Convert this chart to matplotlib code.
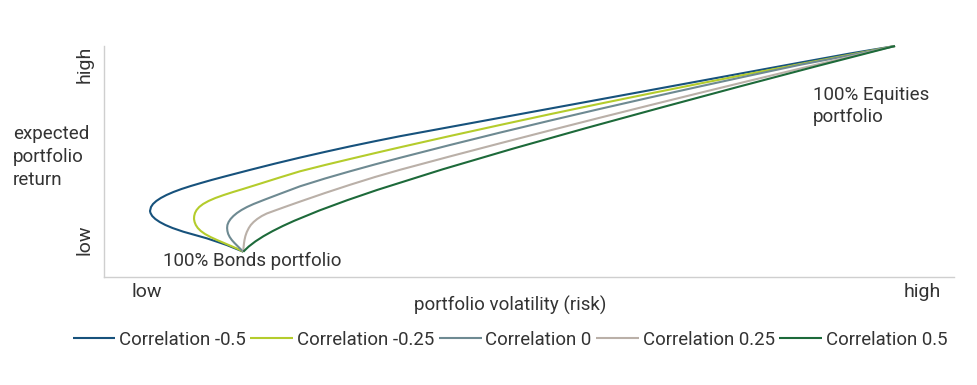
import matplotlib
matplotlib.use("Agg")
import matplotlib.pyplot as plt

plt.rcParams['font.family'] = ['Roboto', 'DejaVu Sans']

# ---- data (relative units: volatility 0-100, expected return 0-100) ----
correlations = ["Correlation -0.5", "Correlation -0.25", "Correlation 0",
                "Correlation 0.25", "Correlation 0.5"]
colors = ["#17527c", "#b4cc2c", "#6e8a92", "#bab0a8", "#1d6a3a"]

vol_m050 = [16.437, 15.356, 14.474, 13.439, 12.134, 10.758, 9.383, 8.113, 7.278, 6.608,
            6.091, 5.726, 5.526, 5.467, 5.585, 5.820, 6.208, 6.737, 7.407, 8.219, 9.171,
            10.265, 11.464, 12.698, 14.286, 17.225, 20.165, 23.104, 26.044, 28.983,
            31.922, 34.862, 40.741, 46.620, 52.499, 58.377, 64.256, 70.135, 76.014,
            81.893, 87.772, 93.063]
ret_m050 = [10.952, 12.554, 13.853, 15.152, 16.753, 18.182, 19.610, 21.212, 22.511, 23.810,
            25.108, 26.407, 27.706, 28.571, 30.303, 31.602, 32.900, 34.199, 35.498, 36.797,
            38.095, 39.394, 40.693, 41.991, 43.550, 46.364, 49.091, 51.688, 54.156, 56.537,
            58.788, 60.952, 64.935, 68.918, 72.900, 76.883, 80.866, 84.848, 88.831,
            92.814, 96.753, 100.0]

vol_m025 = [16.437, 15.814, 14.991, 14.168, 13.345, 12.581, 11.934, 11.440, 11.087, 10.852,
            10.711, 10.641, 10.664, 10.758, 10.946, 11.252, 11.711, 12.346, 13.157, 14.145,
            15.238, 16.402, 18.401, 20.753, 23.104, 26.044, 28.983, 31.922, 34.862, 40.741,
            46.620, 52.499, 58.377, 64.256, 70.135, 76.014, 81.893, 87.772, 93.063]
ret_m025 = [10.952, 12.121, 13.420, 14.719, 16.017, 17.316, 18.615, 19.913, 21.212, 22.511,
            23.810, 25.108, 26.407, 27.706, 29.004, 30.303, 31.602, 32.900, 34.199, 35.498,
            36.797, 38.095, 40.390, 43.117, 45.758, 48.485, 51.082, 53.636, 56.147, 61.039,
            65.801, 70.476, 75.022, 79.437, 83.766, 88.009, 92.164, 96.234, 100.0]

vol_000 = [16.437, 16.108, 15.755, 15.403, 15.085, 14.838, 14.662, 14.568, 14.533, 14.568,
           14.709, 14.944, 15.273, 15.697, 16.226, 16.873, 17.648, 18.989, 20.753, 23.104,
           26.044, 28.983, 31.922, 34.862, 40.741, 46.620, 52.499, 58.377, 64.256, 70.135,
           76.014, 81.893, 87.772, 93.063]
ret_000 = [10.952, 12.121, 13.420, 14.719, 16.017, 17.316, 18.615, 19.913, 21.212, 22.511,
           23.810, 25.108, 26.407, 27.706, 29.004, 30.303, 31.602, 33.550, 36.017, 39.264,
           42.641, 45.758, 48.745, 51.602, 57.143, 62.511, 67.706, 72.771, 77.706, 82.511,
           87.229, 91.861, 95.974, 100.0]

vol_p025 = [16.437, 16.461, 16.508, 16.578, 16.684, 16.849, 17.084, 17.319, 17.648, 18.072,
            18.613, 19.200, 20.165, 21.340, 23.104, 26.044, 28.983, 31.922, 34.862, 40.741,
            46.620, 52.499, 58.377, 64.256, 70.135, 76.014, 81.893, 87.772, 93.063]
ret_p025 = [10.952, 12.554, 14.286, 16.017, 17.749, 19.481, 21.212, 22.511, 23.810, 25.108,
            26.407, 27.489, 28.788, 30.346, 32.641, 36.364, 39.913, 43.290, 46.407, 52.208,
            57.879, 63.463, 68.961, 74.372, 79.719, 85.000, 90.216, 95.368, 100.0]

vol_p050 = [16.437, 17.072, 17.860, 18.801, 19.882, 21.093, 22.422, 25.373, 28.654, 32.193,
            39.883, 48.125, 56.731, 65.597, 74.603, 83.798, 93.063]
ret_p050 = [10.952, 13.182, 15.411, 17.641, 19.870, 22.100, 24.329, 28.788, 33.247, 37.706,
            46.623, 55.541, 64.459, 73.377, 82.294, 91.212, 100.0]

series_vol = [vol_m050, vol_m025, vol_000, vol_p025, vol_p050]
series_ret = [ret_m050, ret_m025, ret_000, ret_p025, ret_p050]

W, H = 977, 385
fig = plt.figure(figsize=(W / 100, H / 100), dpi=100)
ax = fig.add_axes([103.5 / W, (H - 277) / H, (954 - 103.5) / W, (277 - 46) / H])

for v, r, c, lab in zip(series_vol, series_ret, colors, correlations):
    ax.plot(v, r, color=c, lw=1.5, label=lab, clip_on=False,
            solid_joinstyle='round', solid_capstyle='butt')

ax.set_xlim(0, 100)
ax.set_ylim(0, 100)
for s in ['top', 'right']:
    ax.spines[s].set_visible(False)
for s in ['left', 'bottom']:
    ax.spines[s].set_color('#cfcfcf')
    ax.spines[s].set_linewidth(1.0)

txt = '#333333'
ax.set_xticks([5.1, 96.3])
ax.set_xticklabels(['low', 'high'], fontsize=14, color=txt)
ax.set_yticks([16.0, 92.2])
ax.set_yticklabels(['low', 'high'], fontsize=14, color=txt, rotation=90, va='center')
ax.tick_params(axis='both', length=0)
ax.tick_params(axis='x', pad=4)
ax.tick_params(axis='y', pad=7)

fig.text(13 / W, 1 - 157 / H, "expected\nportfolio\nreturn", fontsize=13.5, color=txt,
         ha='left', va='center', linespacing=1.32)
fig.text(510 / W, 1 - 305 / H, "portfolio volatility (risk)", fontsize=13.5, color=txt,
         ha='center', va='center')
fig.text(163 / W, 1 - 261 / H, "100% Bonds portfolio", fontsize=13.5, color=txt,
         ha='left', va='center')
fig.text(813 / W, 1 - 106 / H, "100% Equities\nportfolio", fontsize=13.5, color=txt,
         ha='left', va='center', linespacing=1.3)

fig.legend(loc='center', bbox_to_anchor=(510 / W, 45 / H), ncol=5, frameon=False,
           fontsize=13.4, handlelength=2.3, handletextpad=0.2, columnspacing=0.25,
           labelcolor=txt)

fig.savefig("out.png", dpi=100)
